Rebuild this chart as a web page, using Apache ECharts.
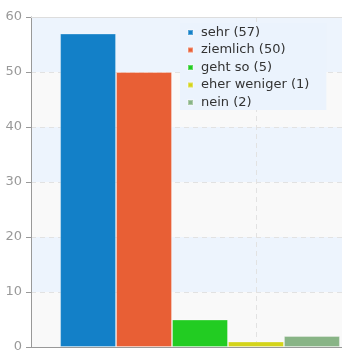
<!DOCTYPE html>
<html><head><meta charset="utf-8">
<script src="https://cdn.jsdelivr.net/npm/echarts@6/dist/echarts.min.js"></script>
<style>html,body{margin:0;padding:0;background:#fff}#c{width:342px;height:358px}</style>
</head><body><div id="c"></div>
<script>
var categories = [''];
var seriesNames = ['sehr (57)', 'ziemlich (50)', 'geht so (5)', 'eher weniger (1)', 'nein (2)'];
var seriesValues = [57, 50, 5, 1, 2];
var seriesColors = ['#1380c8', '#e85f35', '#22cc22', '#d4d41a', '#88b486'];
var yTicks = [0, 10, 20, 30, 40, 50, 60];

var chart = echarts.init(document.getElementById('c'), null, {renderer: 'canvas'});
var series = seriesNames.map(function (n, i) {
  return {
    name: n, type: 'bar', xAxisIndex: 0, data: [seriesValues[i]],
    barGap: 0, barCategoryGap: '17.2%',
    itemStyle: {color: seriesColors[i], borderColor: 'rgba(255,255,255,0.3)', borderWidth: 1},
    emphasis: {disabled: true}
  };
});
chart.setOption({
  animation: false,
  textStyle: {fontFamily: 'DejaVu Sans'},
  grid: {left: 31, top: 17, bottom: 11, width: 338, containLabel: false, outerBoundsMode: 'none'},
  legend: {
    orient: 'vertical', left: 180, top: 23, padding: [3, 17, 1, 7],
    backgroundColor: '#ebf3fd',
    itemWidth: 5, itemHeight: 5, itemGap: 4.5, icon: 'rect',
    textStyle: {fontSize: 13, color: '#333', fontFamily: 'DejaVu Sans', padding: [0, 0, 0, 3]},
    data: seriesNames
  },
  xAxis: [{
    type: 'category', data: categories, position: 'bottom',
    axisLine: {lineStyle: {color: '#999'}}, axisTick: {show: false}, axisLabel: {show: false},
    splitLine: {show: false}
  }, {
    type: 'value', position: 'top', min: 0, max: 3, interval: 2,
    axisLine: {show: true, lineStyle: {color: '#ddd'}}, axisTick: {show: false}, axisLabel: {show: false},
    splitLine: {show: true, lineStyle: {color: '#e2e2e2', type: [5, 4]}}
  }],
  yAxis: {
    type: 'value', min: yTicks[0], max: yTicks[yTicks.length - 1], interval: 10,
    axisLine: {show: true, lineStyle: {color: '#999'}},
    axisTick: {show: true, length: 5, lineStyle: {color: '#999'}},
    axisLabel: {color: '#999', fontSize: 13, margin: 9, fontFamily: 'DejaVu Sans'},
    splitLine: {show: true, lineStyle: {color: '#e2e2e2', type: [5, 4]}},
    splitArea: {show: true, areaStyle: {color: ['#f9f9f9', '#edf4fd']}}
  },
  series: series
});
</script></body></html>
